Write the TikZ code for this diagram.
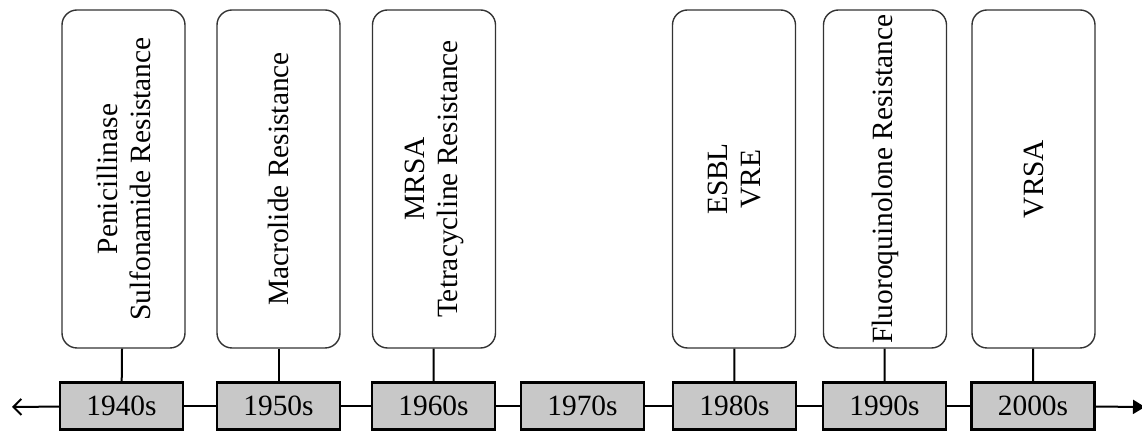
\documentclass[tikz,border=0pt]{standalone}
\usepackage{fontspec}
\setmainfont{Liberation Serif}
\usetikzlibrary{positioning,arrows.meta}
\definecolor{yeargray}{RGB}{200,200,200}

\begin{document}
\begin{tikzpicture}[x=0.5pt,y=-0.5pt,
                       year box/.style={rectangle,fill=yeargray,draw,line width=1.2pt,
                                        inner sep=0pt,minimum width=61.5pt,minimum height=23.5pt,
                                        font=\fontsize{14.7}{16.5}\selectfont},
                       event box/.style={rectangle,rounded corners=7.5pt,draw=black!80,line width=0.7pt,
                                         rotate=90,align=center,inner sep=0pt,
                                         minimum width=169pt,minimum height=61.5pt,
                                         font=\fontsize{14.7}{16.5}\selectfont}
                           ]
   \useasboundingbox (0,0) rectangle (1142,431);
   % decades along the axis
   \node[year box] (y40) at (121.5,406) {1940s};
   \node[year box] (y50) at (278.5,406) {1950s};
   \node[year box] (y60) at (433.5,406) {1960s};
   \node[year box] (y70) at (582.5,406) {1970s};
   \node[year box] (y80) at (734.5,406) {1980s};
   \node[year box] (y90) at (884.5,406) {1990s};
   \node[year box] (y00) at (1033,406) {2000s};
   \coordinate (lt) at (12,407);
   \coordinate (rt) at (1145,407);
   % resistance events
   \node[event box] (r40) at (123.5,179) {Penicillinase\\Sulfonamide Resistance};
   \node[event box] (r50) at (278.5,179) {Macrolide Resistance};
   \node[event box] (r60) at (434,179) {MRSA\\Tetracycline Resistance};
   \node[event box] (r80) at (734,179) {ESBL\\VRE};
   \node[event box] (r90) at (885,179) {Fluoroquinolone Resistance};
   \node[event box] (r00) at (1033.5,179) {VRSA};
      \path[draw,line width=1pt]%
    (y40) edge [-{Straight Barb[length=4pt,width=8pt]}] (lt)
    (y40) edge (y50)
    (y50) edge (y60)
    (y60) edge (y70)
    (y70) edge (y80)
    (y80) edge (y90)
    (y90) edge (y00)
    (y00) edge [-{Triangle[length=6pt,width=7pt]}] (rt)
    (r40) edge (y40)
    (r50) edge (y50)
    (r60) edge (y60)
    (r80) edge (y80)
    (r90) edge (y90)
    (r00) edge (y00);
      \end{tikzpicture}
\end{document}
